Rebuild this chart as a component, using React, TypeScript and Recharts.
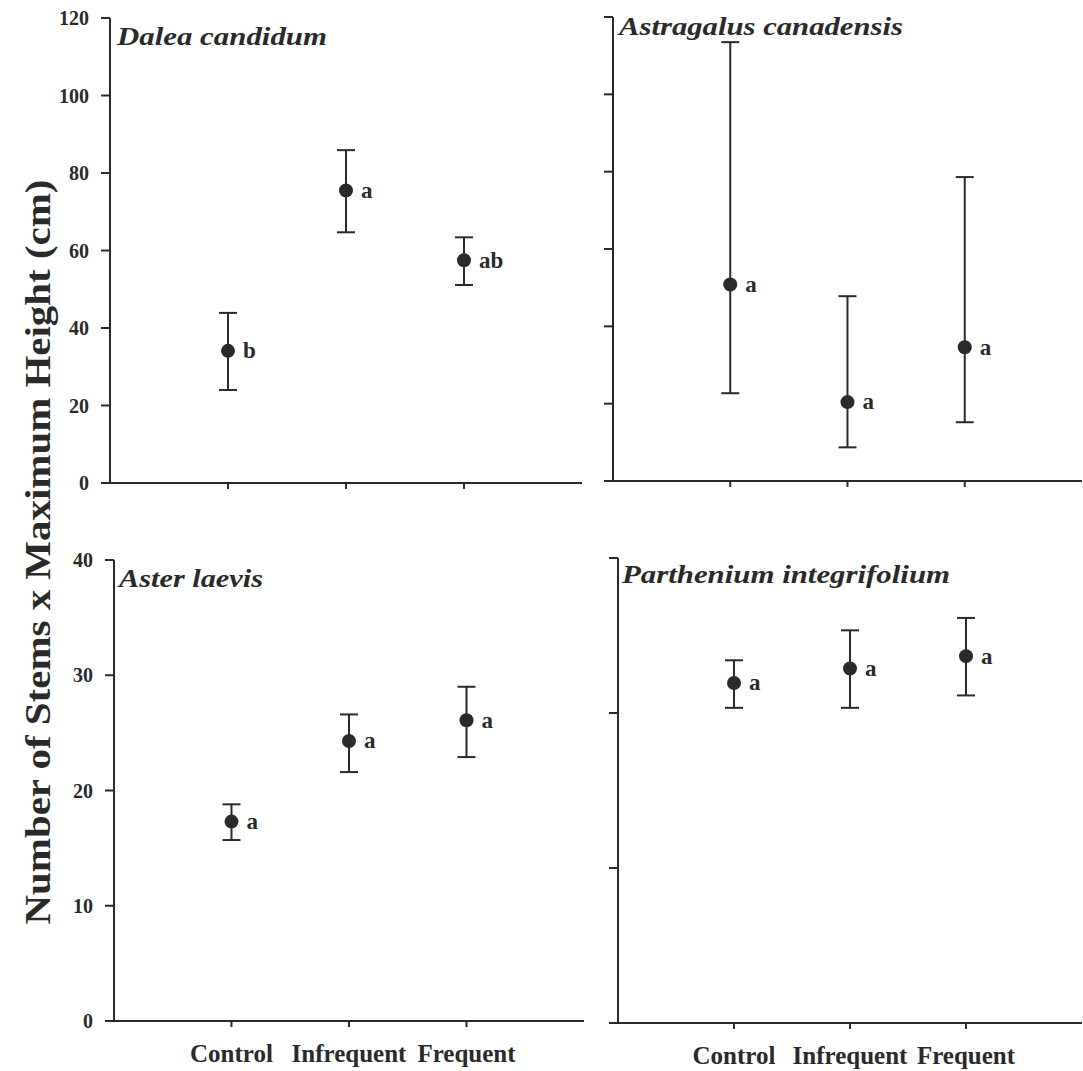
import React from 'react';
import { ScatterChart, Scatter, XAxis, YAxis, ErrorBar } from 'recharts';

const treatments = ['Control', 'Infrequent', 'Frequent'];
const treatmentPos = [1, 2, 3];

const daleaMean = [34.1, 75.5, 57.5];
const daleaLow = [24.0, 64.7, 51.1];
const daleaHigh = [43.9, 85.9, 63.4];
const daleaLetters = ['b', 'a', 'ab'];

const astragalusMean = [50.8, 20.4, 34.6];
const astragalusLow = [22.7, 8.7, 15.2];
const astragalusHigh = [113.5, 47.8, 78.6];
const astragalusLetters = ['a', 'a', 'a'];

const asterMean = [17.3, 24.3, 26.1];
const asterLow = [15.7, 21.6, 22.9];
const asterHigh = [18.8, 26.6, 29.0];
const asterLetters = ['a', 'a', 'a'];

const partheniumMean = [32.9, 34.3, 35.5];
const partheniumLow = [30.5, 30.5, 31.7];
const partheniumHigh = [35.1, 38.0, 39.2];
const partheniumLetters = ['a', 'a', 'a'];

const topTicks = [0, 20, 40, 60, 80, 100, 120];
const asterTicks = [0, 10, 20, 30, 40];
const partheniumTicks = [0, 15, 30, 45];

const yAxisTitle = 'Number of Stems x Maximum Height (cm)';

const INK = '#2a2a2a';
const FONT = '"Liberation Serif", "Times New Roman", serif';

const build = (mean: number[], low: number[], high: number[], letters: string[]) =>
  treatments.map((t, i) => ({
    x: treatmentPos[i],
    name: t,
    y: mean[i],
    err: [mean[i] - low[i], high[i] - mean[i]],
    letter: letters[i],
  }));

const PointShape = (props: any) => {
  const { cx, cy, payload } = props;
  if (cx == null || cy == null) return null;
  return (
    <g>
      <circle cx={cx} cy={cy} r={7} fill={INK} />
      <text
        x={cx + 15}
        y={cy}
        dy="0.32em"
        fill={INK}
        fontFamily={FONT}
        fontWeight="bold"
        fontSize={23}
      >
        {payload.letter}
      </text>
    </g>
  );
};

type PanelProps = {
  plotLeft: number;
  plotRight: number;
  plotTop: number;
  plotBottom: number;
  domain: [number, number];
  ticks: number[];
  showYLabels: boolean;
  showXLabels: boolean;
  data: any[];
};

const Panel = ({ plotLeft, plotRight, plotTop, plotBottom, domain, ticks, showYLabels, showXLabels, data }: PanelProps) => {
  const chartLeft = plotLeft - 70;
  const chartTop = plotTop - 10;
  const width = plotRight - chartLeft + 1;
  const height = plotBottom - chartTop + 50;
  const lineStyle = { stroke: INK, strokeWidth: 2 };
  return (
    <div style={{ position: 'absolute', left: chartLeft, top: chartTop, width, height }}>
      <ScatterChart width={width} height={height} margin={{ top: 10, left: 10, right: 1, bottom: 0 }}>
        <XAxis
          type="number"
          dataKey="x"
          domain={[0, 4]}
          ticks={treatmentPos}
          interval={0}
          height={50}
          tickSize={6}
          tickMargin={17}
          axisLine={lineStyle}
          tickLine={lineStyle}
          tickFormatter={(v: number) => (showXLabels ? treatments[v - 1] : '')}
          tick={{ fill: INK, fontFamily: FONT, fontWeight: 'bold', fontSize: 25 }}
        />
        <YAxis
          type="number"
          dataKey="y"
          domain={domain}
          ticks={ticks}
          interval={0}
          width={60}
          tickSize={9}
          tickMargin={12}
          axisLine={lineStyle}
          tickLine={lineStyle}
          tickFormatter={(v: number) => (showYLabels ? String(v) : '')}
          tick={{ fill: INK, fontFamily: FONT, fontWeight: 'bold', fontSize: 20 }}
        />
        <Scatter data={data} isAnimationActive={false} shape={PointShape}>
          <ErrorBar dataKey="err" direction="y" width={9} stroke={INK} strokeWidth={2} isAnimationActive={false} />
        </Scatter>
      </ScatterChart>
    </div>
  );
};

const titleStyle = {
  fontFamily: FONT,
  fontWeight: 'bold' as const,
  fontStyle: 'italic' as const,
  fontSize: 26,
  fill: INK,
};

export default function App() {
  return (
    <div
      style={{
        position: 'absolute',
        left: 0,
        top: 0,
        width: 1083,
        height: 1071,
        overflow: 'hidden',
        background: '#fff',
      }}
    >
      <Panel
        plotLeft={110}
        plotRight={582}
        plotTop={18}
        plotBottom={483}
        domain={[0, 120]}
        ticks={topTicks}
        showYLabels
        showXLabels={false}
        data={build(daleaMean, daleaLow, daleaHigh, daleaLetters)}
      />
      <Panel
        plotLeft={613}
        plotRight={1082}
        plotTop={17}
        plotBottom={481}
        domain={[0, 120]}
        ticks={topTicks}
        showYLabels={false}
        showXLabels={false}
        data={build(astragalusMean, astragalusLow, astragalusHigh, astragalusLetters)}
      />
      <Panel
        plotLeft={114}
        plotRight={584}
        plotTop={560}
        plotBottom={1021}
        domain={[0, 40]}
        ticks={asterTicks}
        showYLabels
        showXLabels
        data={build(asterMean, asterLow, asterHigh, asterLetters)}
      />
      <Panel
        plotLeft={618}
        plotRight={1082}
        plotTop={558}
        plotBottom={1023}
        domain={[0, 45]}
        ticks={partheniumTicks}
        showYLabels={false}
        showXLabels
        data={build(partheniumMean, partheniumLow, partheniumHigh, partheniumLetters)}
      />
      <svg
        width={1083}
        height={1071}
        style={{ position: 'absolute', left: 0, top: 0, pointerEvents: 'none' }}
      >
        <text x={117} y={45} textLength={210} lengthAdjust="spacingAndGlyphs" style={titleStyle}>
          Dalea candidum
        </text>
        <text x={619} y={35} textLength={284} lengthAdjust="spacingAndGlyphs" style={titleStyle}>
          Astragalus canadensis
        </text>
        <text x={119} y={587} textLength={144} lengthAdjust="spacingAndGlyphs" style={titleStyle}>
          Aster laevis
        </text>
        <text x={622} y={583} textLength={328} lengthAdjust="spacingAndGlyphs" style={titleStyle}>
          Parthenium integrifolium
        </text>
        <text
          x={38}
          y={552}
          dy="0.35em"
          textAnchor="middle"
          transform="rotate(-90, 38, 552)"
          textLength={745}
          lengthAdjust="spacingAndGlyphs"
          fontFamily={FONT}
          fontWeight="bold"
          fontSize={35}
          fill={INK}
        >
          {yAxisTitle}
        </text>
      </svg>
    </div>
  );
}
